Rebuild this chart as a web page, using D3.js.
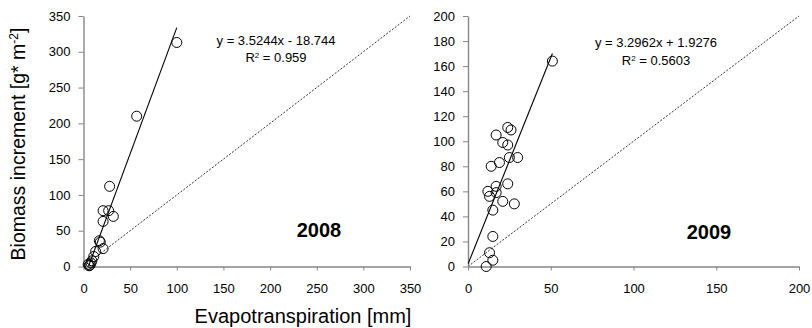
<!DOCTYPE html>
<html>
<head>
<meta charset="utf-8">
<script src="https://cdn.jsdelivr.net/npm/d3@7"></script>
<style>
  body { margin: 0; background: #fff; }
  svg { display: block; font-family: "Liberation Sans", Arial, sans-serif; }
</style>
</head>
<body>
<div id="chart"></div>
<script>
// ── Data ────────────────────────────────────────────────────────────────
const ET_2008  = [5, 6, 7, 8, 9, 11, 13, 17, 18, 21, 21, 21, 27, 32, 28, 57, 100];
const BIO_2008 = [3, 1, 2, 5, 8, 14, 21, 36, 34, 25, 63, 78, 78, 70, 112, 210, 313];

const ET_2009  = [51, 24, 26, 17, 21, 24, 30, 25, 19, 14, 24, 17, 12, 13, 17, 21, 28, 15, 15, 13, 15, 11];
const BIO_2009 = [164, 111, 109, 105, 99, 97, 87, 87, 83, 80, 66, 64, 60, 56, 59, 52, 50, 45, 24, 11, 5, 0];

const TREND_2008 = { slope: 3.5244, intercept: -18.744, from: 5.3, to: 100 };
const TREND_2009 = { slope: 3.2962, intercept: 1.9276,  from: 0,   to: 51 };

const EQ_2008 = ["y = 3.5244x - 18.744", "0.959"];
const EQ_2009 = ["y = 3.2962x + 1.9276", "0.5603"];

const X_TICKS_2008 = [0, 50, 100, 150, 200, 250, 300, 350];
const Y_TICKS_2008 = [0, 50, 100, 150, 200, 250, 300, 350];
const X_TICKS_2009 = [0, 50, 100, 150, 200];
const Y_TICKS_2009 = [0, 20, 40, 60, 80, 100, 120, 140, 160, 180, 200];

const W = 812, H = 328;
const AXIS_COLOR = "#868686";

const svg = d3.select("#chart").append("svg")
    .attr("width", W)
    .attr("height", H);

const panels = [
    { year: "2008", et: ET_2008, bio: BIO_2008, trend: TREND_2008, eq: EQ_2008,
      xMax: 350, yMax: 350, xTicks: X_TICKS_2008, yTicks: Y_TICKS_2008,
      xRange: [83.5, 410], yRange: [266.5, 16],
      eqX: 276, eqY: [45, 62], yearX: 319, yearY: 237 },
    { year: "2009", et: ET_2009, bio: BIO_2009, trend: TREND_2009, eq: EQ_2009,
      xMax: 200, yMax: 200, xTicks: X_TICKS_2009, yTicks: Y_TICKS_2009,
      xRange: [468, 799], yRange: [266.5, 16],
      eqX: 656, eqY: [47, 65], yearX: 709, yearY: 239 }
];

panels.forEach((p, i) => {
    const x = d3.scaleLinear().domain([0, p.xMax]).range(p.xRange);
    const y = d3.scaleLinear().domain([0, p.yMax]).range(p.yRange);

    const g = svg.append("g");

    const clipId = "clip-" + i;
    svg.append("clipPath").attr("id", clipId)
        .append("rect")
        .attr("x", p.xRange[0]).attr("y", p.yRange[1] - 2)
        .attr("width", p.xRange[1] - p.xRange[0] + 2)
        .attr("height", p.yRange[0] - p.yRange[1] + 2);

    // 1:1 line
    g.append("line")
        .attr("x1", x(0)).attr("y1", y(0))
        .attr("x2", x(p.xMax)).attr("y2", y(p.yMax))
        .attr("stroke", "#000")
        .attr("stroke-width", 0.8)
        .attr("stroke-dasharray", "2,1.6");

    // Axes
    const xAxis = g.append("g")
        .attr("transform", `translate(0,${p.yRange[0]})`)
        .call(d3.axisBottom(x).tickValues(p.xTicks).tickSize(4).tickSizeOuter(0).tickPadding(13));
    const yAxis = g.append("g")
        .attr("transform", `translate(${p.xRange[0]},0)`)
        .call(d3.axisLeft(y).tickValues(p.yTicks).tickSize(5).tickSizeOuter(0).tickPadding(8));

    [xAxis, yAxis].forEach(ax => {
        ax.select(".domain").attr("stroke", AXIS_COLOR).attr("stroke-width", 1.4);
        ax.selectAll(".tick line").attr("stroke", AXIS_COLOR).attr("stroke-width", 1);
        ax.selectAll(".tick text")
            .attr("fill", "#000")
            .style("font-size", "13px")
            .style("font-family", "'Liberation Sans', Arial, sans-serif");
    });

    // Trend line
    g.append("line")
        .attr("clip-path", `url(#${clipId})`)
        .attr("x1", x(p.trend.from))
        .attr("y1", y(p.trend.slope * p.trend.from + p.trend.intercept))
        .attr("x2", x(p.trend.to))
        .attr("y2", y(p.trend.slope * p.trend.to + p.trend.intercept))
        .attr("stroke", "#000")
        .attr("stroke-width", 1.1);

    // Points
    g.selectAll("circle.pt")
        .data(d3.zip(p.et, p.bio))
        .join("circle")
        .attr("class", "pt")
        .attr("cx", d => x(d[0]))
        .attr("cy", d => y(d[1]))
        .attr("r", 5)
        .attr("fill", "none")
        .attr("stroke", "#000")
        .attr("stroke-width", 1);

    // Equation
    g.append("text")
        .attr("x", p.eqX).attr("y", p.eqY[0])
        .attr("text-anchor", "middle")
        .style("font-size", "13px")
        .text(p.eq[0]);
    const r2 = g.append("text")
        .attr("x", p.eqX).attr("y", p.eqY[1])
        .attr("text-anchor", "middle")
        .style("font-size", "13px");
    r2.append("tspan").text("R");
    r2.append("tspan").attr("dy", -4).style("font-size", "8px").text("2");
    r2.append("tspan").attr("dy", 4).text(" = " + p.eq[1]);

    // Year label
    g.append("text")
        .attr("x", p.yearX).attr("y", p.yearY)
        .attr("text-anchor", "middle")
        .style("font-size", "20px")
        .style("font-weight", "bold")
        .text(p.year);
});

// Axis titles
svg.append("text")
    .attr("x", 303).attr("y", 323)
    .attr("text-anchor", "middle")
    .style("font-size", "20px")
    .text("Evapotranspiration [mm]");

const yTitle = svg.append("text")
    .attr("transform", "translate(25,144) rotate(-90)")
    .attr("text-anchor", "middle")
    .style("font-size", "19.5px");
yTitle.append("tspan").text("Biomass increment [g* m");
yTitle.append("tspan").attr("dy", -7).style("font-size", "12px").text("-2");
yTitle.append("tspan").attr("dy", 7).text("]");
</script>
</body>
</html>
